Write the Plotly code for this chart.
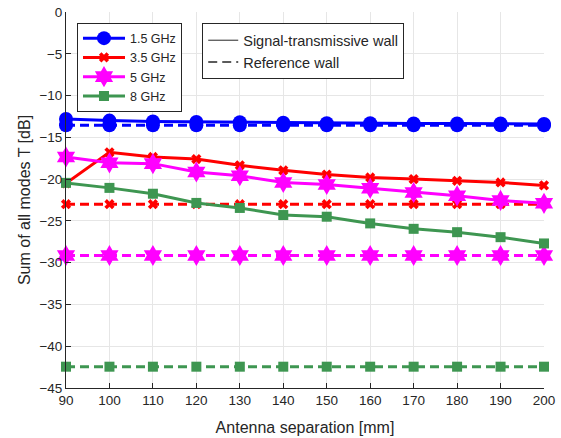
import plotly.graph_objects as go

# Antenna separation [mm]
separation = [90, 100, 110, 120, 130, 140, 150, 160, 170, 180, 190, 200]

# Sum of all modes T [dB] for the signal-transmissive wall
t_15_wall = [-12.8, -13.0, -13.1, -13.15, -13.2, -13.25, -13.3, -13.3, -13.35, -13.35, -13.35, -13.4]
t_35_wall = [-20.5, -16.8, -17.35, -17.6, -18.35, -18.95, -19.45, -19.8, -20.0, -20.2, -20.4, -20.75]
t_5_wall = [-17.35, -18.05, -18.15, -19.15, -19.6, -20.4, -20.65, -21.1, -21.6, -22.0, -22.55, -22.9]
t_8_wall = [-20.45, -21.05, -21.75, -22.85, -23.45, -24.3, -24.5, -25.3, -25.95, -26.35, -26.95, -27.7]

# Reference wall levels [dB]
t_15_ref = [-13.55] * 12
t_35_ref = [-23.0] * 12
t_5_ref = [-29.15] * 12
t_8_ref = [-42.45] * 12

freq_labels = ["1.5 GHz", "3.5 GHz", "5 GHz", "8 GHz"]
wall_labels = ["Signal-transmissive wall", "Reference wall"]
x_ticks = [90, 100, 110, 120, 130, 140, 150, 160, 170, 180, 190, 200]
y_ticks = [0, -5, -10, -15, -20, -25, -30, -35, -40, -45]

colors = ["#0000ff", "#ff0000", "#ff00ff", "#3e9651"]
symbols = ["circle", "x", "hexagram", "square"]
sizes = [14, 9, 16, 10]
wall_series = [t_15_wall, t_35_wall, t_5_wall, t_8_wall]
ref_series = [t_15_ref, t_35_ref, t_5_ref, t_8_ref]

fig = go.Figure()

for i in range(4):
    fig.add_trace(go.Scatter(
        x=separation, y=ref_series[i], mode="lines+markers",
        line=dict(color=colors[i], width=3, dash="9px,5px"),
        marker=dict(symbol=symbols[i], size=sizes[i], color=colors[i]),
        showlegend=False, cliponaxis=False))
    fig.add_trace(go.Scatter(
        x=separation, y=wall_series[i], mode="lines+markers",
        name=freq_labels[i], legend="legend",
        line=dict(color=colors[i], width=3),
        marker=dict(symbol=symbols[i], size=sizes[i], color=colors[i]),
        cliponaxis=False))

# Line-style key
fig.add_trace(go.Scatter(x=[None], y=[None], mode="lines", name=wall_labels[0],
                         legend="legend2", line=dict(color="#262626", width=1)))
fig.add_trace(go.Scatter(x=[None], y=[None], mode="lines", name=wall_labels[1],
                         legend="legend2", line=dict(color="#262626", width=1.5, dash="9px,5px")))

axis_font = dict(family="Arial", size=13, color="#262626")

fig.update_layout(
    width=561, height=438,
    margin=dict(l=66, r=17, t=12, b=50),
    paper_bgcolor="white", plot_bgcolor="white",
    font=axis_font,
    legend=dict(x=0.023, y=0.972, xanchor="left", yanchor="top",
                bordercolor="#262626", borderwidth=1, bgcolor="white",
                font=dict(size=12.5), tracegroupgap=0, itemwidth=42),
    legend2=dict(x=0.285, y=0.97, xanchor="left", yanchor="top",
                 bordercolor="#262626", borderwidth=1, bgcolor="white",
                 font=dict(size=14.5), itemwidth=30),
)

fig.update_xaxes(
    range=[90, 200], tickvals=x_ticks, ticks="inside", ticklen=5,
    tickcolor="#262626", showline=True, linecolor="#262626", linewidth=1,
    showgrid=True, gridcolor="#e6e6e6", zeroline=False, automargin=False,
    tickfont=dict(size=13.5),
    title=dict(text="Antenna separation [mm]", font=dict(size=16), standoff=14),
)
fig.update_yaxes(
    range=[-45, 0], tickvals=y_ticks, ticks="inside", ticklen=5,
    tickcolor="#262626", showline=True, linecolor="#262626", linewidth=1,
    showgrid=True, gridcolor="#e6e6e6", zeroline=False, automargin=False,
    tickfont=dict(size=13.5),
    title=dict(text="Sum of all modes T [dB]", font=dict(size=16), standoff=4),
)

fig.write_html("out.html")
